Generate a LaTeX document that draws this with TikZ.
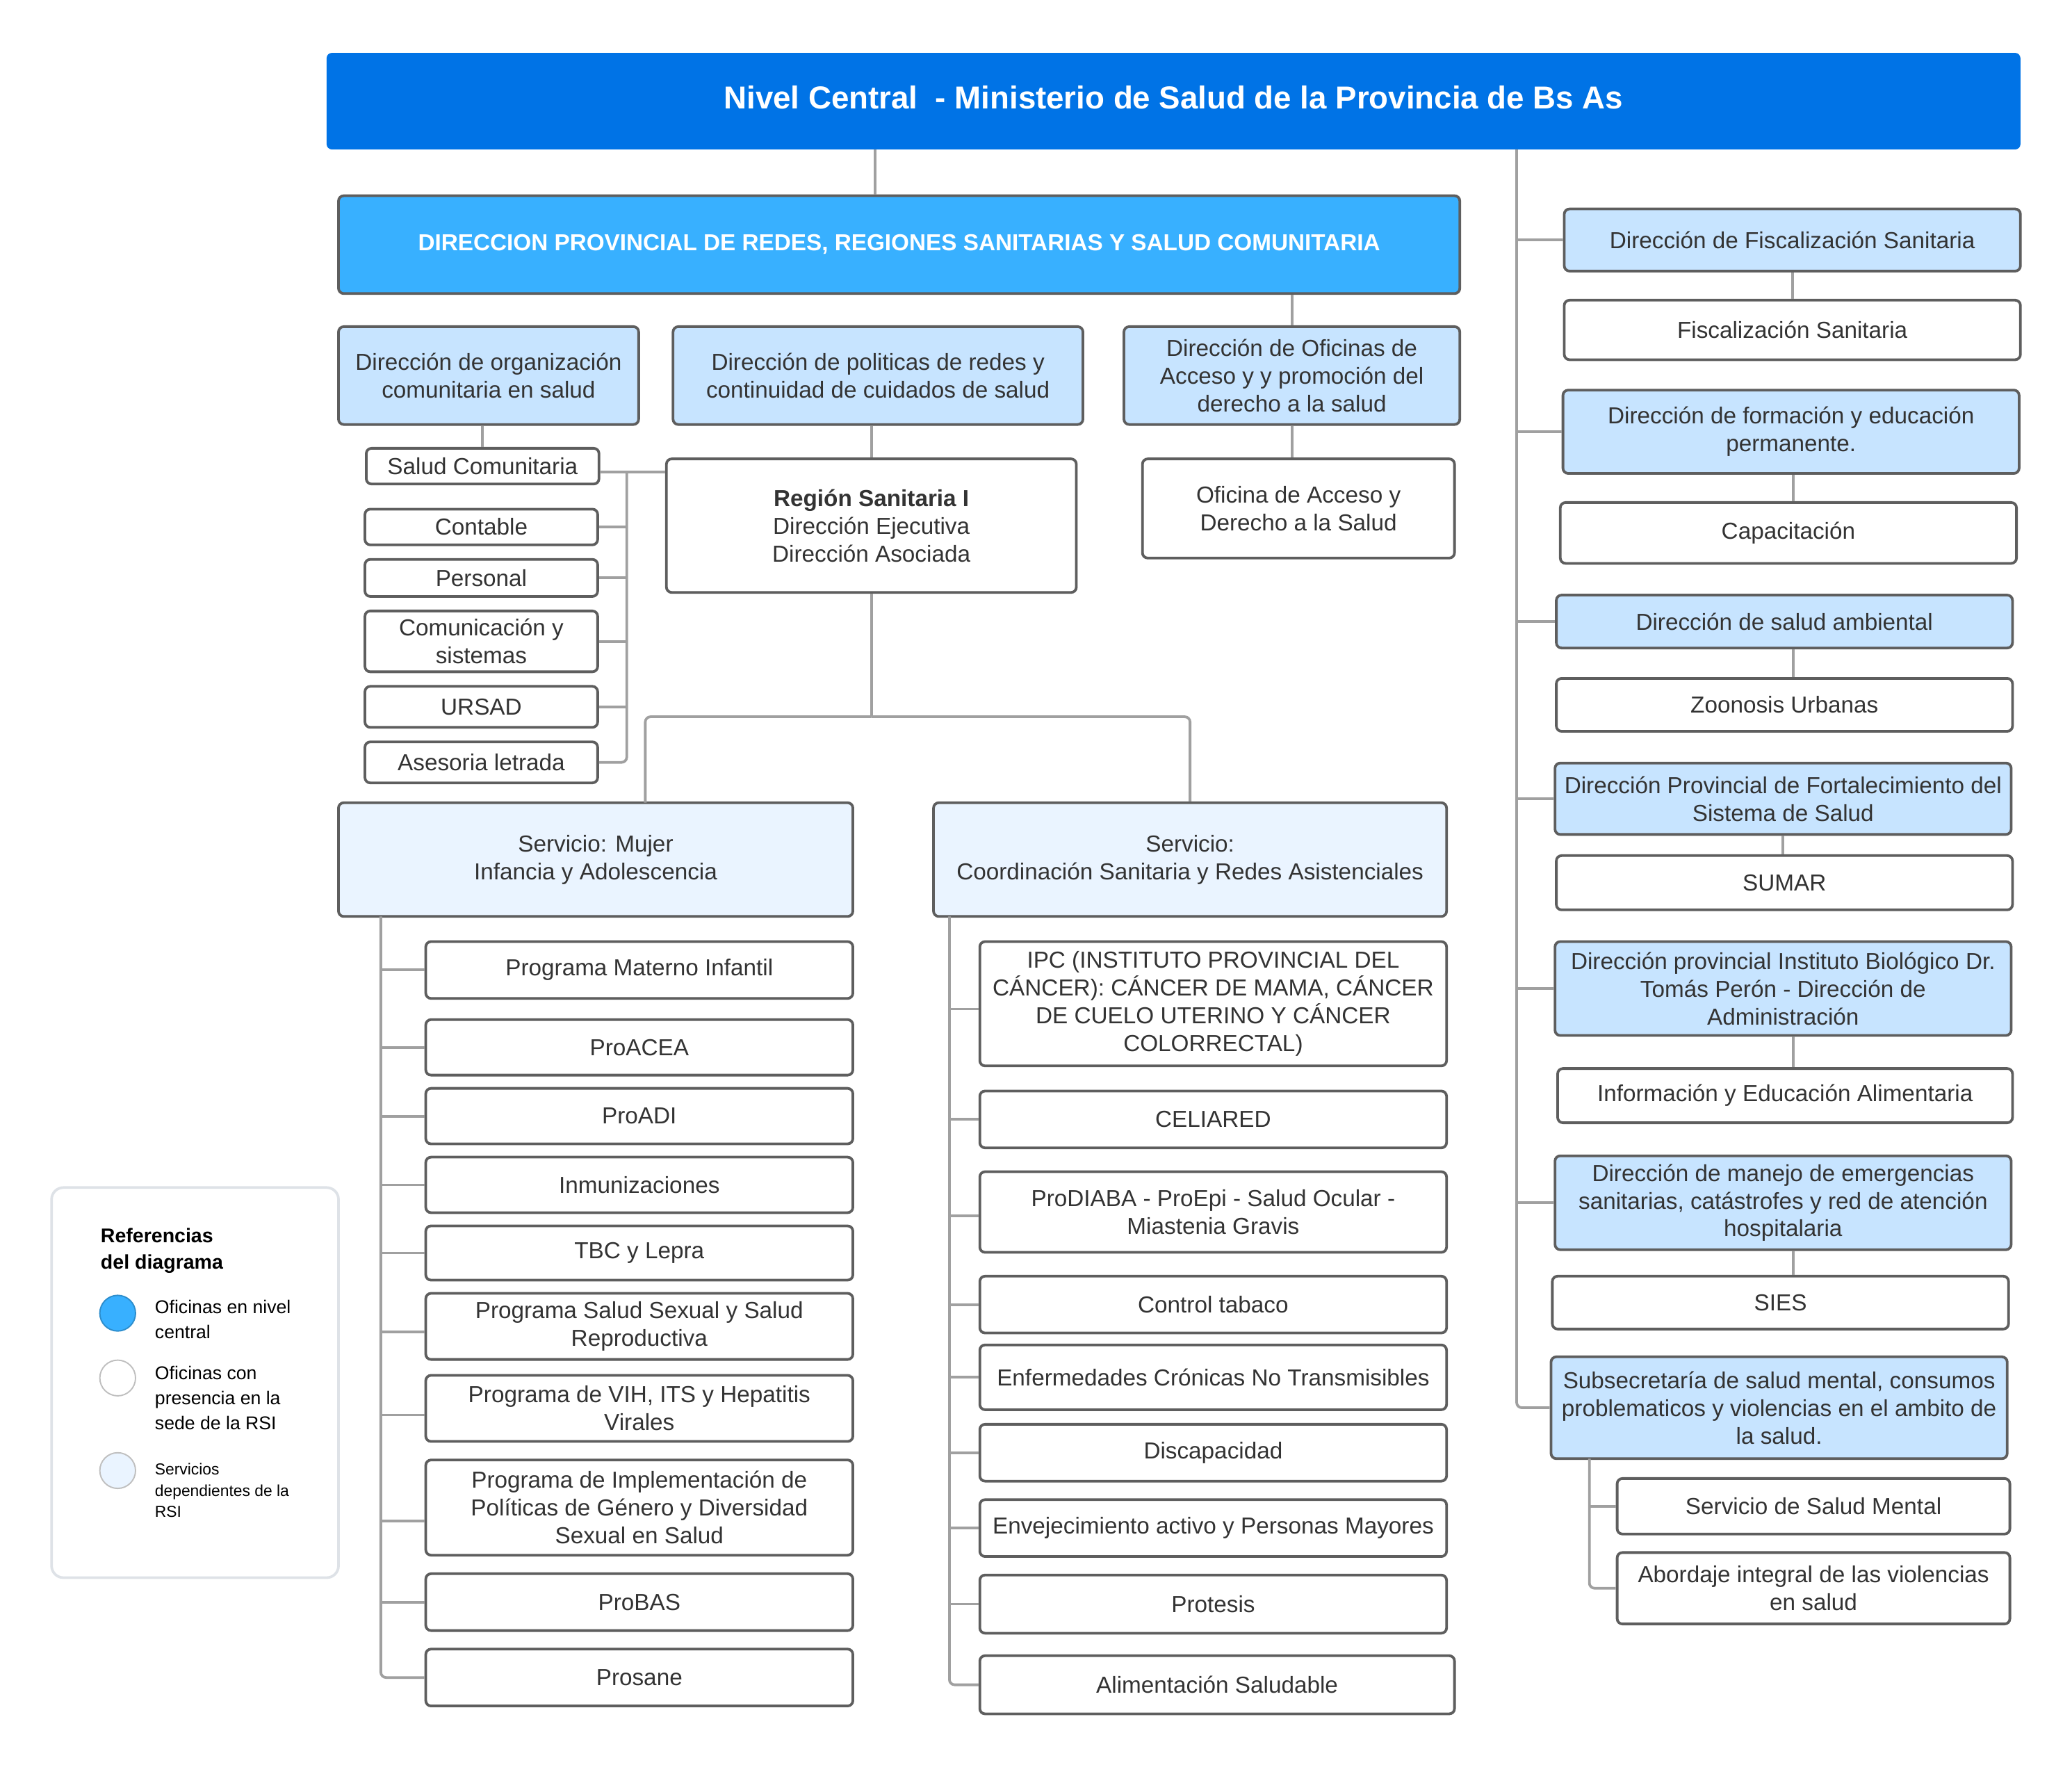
\documentclass[tikz,border=0pt]{standalone}
\usepackage{fontspec}
\setmainfont{Liberation Sans}
\usepackage{tikz}
\definecolor{azul}{RGB}{0,115,230}
\definecolor{celeste}{RGB}{56,176,255}
\definecolor{celestecl}{RGB}{199,228,255}
\definecolor{servcl}{RGB}{234,244,255}
\definecolor{borde}{RGB}{94,94,94}
\definecolor{linea}{RGB}{160,160,160}
\definecolor{texto}{RGB}{51,51,51}
\definecolor{marco}{RGB}{222,226,231}

\begin{document}
\begin{tikzpicture}[x=1pt,y=-1pt,
  caja/.style={draw=borde, line width=2pt, rounded corners=4pt, fill=white, align=center, inner sep=0pt, text=texto, font=\fontsize{17.5}{21}\selectfont},
  dir/.style={caja, fill=celestecl},
  serv/.style={caja, fill=servcl},
  conn/.style={draw=linea, line width=2pt},
  leyenda/.style={anchor=west, align=left, inner sep=0pt, font=\fontsize{14}{19}\selectfont},
  punto/.style={circle, minimum size=27pt, inner sep=0pt, line width=1pt}]
\useasboundingbox (0,0) rectangle (1567,1334.6);

% nivel central
\node[fill=azul, rounded corners=4pt, minimum width=1281, minimum height=73, text depth=6pt, text=white, font=\bfseries\fontsize{24}{28}\selectfont] (nivel) at (887.5,76.5) {Nivel Central\ \ - Ministerio de Salud de la Provincia de Bs As};
\node[caja, fill=celeste, minimum width=848, minimum height=74, text=white, font=\bfseries\fontsize{17.5}{21}\selectfont] (dirprov) at (680,185) {DIRECCION PROVINCIAL DE REDES, REGIONES SANITARIAS Y SALUD COMUNITARIA};

\node[dir, minimum width=227, minimum height=74] (dirorg) at (369.5,284) {Dirección de organización\\comunitaria en salud};
\node[dir, minimum width=310, minimum height=74] (dirpol) at (664,284) {Dirección de politicas de redes y\\continuidad de cuidados de salud};
\node[dir, minimum width=254, minimum height=74] (dirofi) at (977,284) {Dirección de Oficinas de\\Acceso y y promoción del\\derecho a la salud};

\node[caja, minimum width=176, minimum height=27] (saludc) at (365,352.5) {Salud Comunitaria};
\node[caja, minimum width=176, minimum height=27] (contable) at (364,398.5) {Contable};
\node[caja, minimum width=176, minimum height=28] (personal) at (364,437) {Personal};
\node[caja, minimum width=176, minimum height=46] (comunic) at (364,485) {Comunicación y\\sistemas};
\node[caja, minimum width=176, minimum height=31] (ursad) at (364,534.5) {URSAD};
\node[caja, minimum width=176, minimum height=31] (asesoria) at (364,576.5) {Asesoria letrada};

\node[caja, minimum width=310, minimum height=101] (region) at (659,397.5) {{\bfseries Región Sanitaria I}\\Dirección Ejecutiva\\Dirección Asociada};
\node[caja, minimum width=236, minimum height=75] (oficina) at (982,384.5) {Oficina de Acceso y\\Derecho a la Salud};

\node[serv, minimum width=389, minimum height=86] (mujer) at (450.5,650) {Servicio: Mujer\\Infancia y Adolescencia};
\node[serv, minimum width=388, minimum height=86] (coord) at (900,650) {Servicio:\\Coordinación Sanitaria y Redes Asistenciales};

% programas del servicio mujer
\node[caja, minimum width=323, minimum height=43] (materno) at (483.5,733.5) {Programa Materno Infantil};
\node[caja, minimum width=323, minimum height=42] (proacea) at (483.5,792) {ProACEA};
\node[caja, minimum width=323, minimum height=42] (proadi) at (483.5,844) {ProADI};
\node[caja, minimum width=323, minimum height=42] (inmun) at (483.5,896) {Inmunizaciones};
\node[caja, minimum width=323, minimum height=41] (tbc) at (483.5,947.5) {TBC y Lepra};
\node[caja, minimum width=323, minimum height=50] (ssexual) at (483.5,1003) {Programa Salud Sexual y Salud\\Reproductiva};
\node[caja, minimum width=323, minimum height=50] (vih) at (483.5,1065) {Programa de VIH, ITS y Hepatitis\\Virales};
\node[caja, minimum width=323, minimum height=72] (genero) at (483.5,1140) {Programa de Implementación de\\Políticas de Género y Diversidad\\Sexual en Salud};
\node[caja, minimum width=323, minimum height=43] (probas) at (483.5,1211.5) {ProBAS};
\node[caja, minimum width=323, minimum height=43] (prosane) at (483.5,1268.5) {Prosane};

% programas del servicio coordinacion
\node[caja, minimum width=353, minimum height=94] (ipc) at (917.5,759) {IPC (INSTITUTO PROVINCIAL DEL\\CÁNCER): CÁNCER DE MAMA, CÁNCER\\DE CUELO UTERINO Y CÁNCER\\COLORRECTAL)};
\node[caja, minimum width=353, minimum height=43] (celiared) at (917.5,846.5) {CELIARED};
\node[caja, minimum width=353, minimum height=61] (prodiaba) at (917.5,916.5) {ProDIABA - ProEpi - Salud Ocular -\\Miastenia Gravis};
\node[caja, minimum width=353, minimum height=43] (tabaco) at (917.5,986.5) {Control tabaco};
\node[caja, minimum width=353, minimum height=49] (ecnt) at (917.5,1041.5) {Enfermedades Crónicas No Transmisibles};
\node[caja, minimum width=353, minimum height=43] (discap) at (917.5,1098.5) {Discapacidad};
\node[caja, minimum width=353, minimum height=43] (envejec) at (917.5,1155.5) {Envejecimiento activo y Personas Mayores};
\node[caja, minimum width=353, minimum height=44] (protesis) at (917.5,1213) {Protesis};
\node[caja, minimum width=359, minimum height=44] (alimsal) at (920.5,1274) {Alimentación Saludable};

% columna derecha
\node[dir, minimum width=345, minimum height=47] (dfisc) at (1355.5,181.5) {Dirección de Fiscalización Sanitaria};
\node[caja, minimum width=345, minimum height=45] (fisc) at (1355.5,249.5) {Fiscalización Sanitaria};
\node[dir, minimum width=345, minimum height=63] (dform) at (1354.5,326.5) {Dirección de formación y educación\\permanente.};
\node[caja, minimum width=345, minimum height=46] (capac) at (1352.5,403) {Capacitación};
\node[dir, minimum width=345, minimum height=40] (dambi) at (1349.5,470) {Dirección de salud ambiental};
\node[caja, minimum width=345, minimum height=40] (zoon) at (1349.5,533) {Zoonosis Urbanas};
\node[dir, minimum width=345, minimum height=54] (dforta) at (1348.5,604) {Dirección Provincial de Fortalecimiento del\\Sistema de Salud};
\node[caja, minimum width=345, minimum height=41] (sumar) at (1349.5,667.5) {SUMAR};
\node[dir, minimum width=345, minimum height=71] (dbio) at (1348.5,747.5) {Dirección provincial Instituto Biológico Dr.\\Tomás Perón - Dirección de\\Administración};
\node[caja, minimum width=344, minimum height=41] (infoal) at (1350,828.5) {Información y Educación Alimentaria};
\node[dir, minimum width=345, minimum height=71] (demerg) at (1348.5,909.5) {Dirección de manejo de emergencias\\sanitarias, catástrofes y red de atención\\hospitalaria};
\node[caja, minimum width=345, minimum height=40] (sies) at (1346.5,985) {SIES};
\node[dir, minimum width=345, minimum height=77] (subsec) at (1345.5,1064.5) {Subsecretaría de salud mental, consumos\\problematicos y violencias en el ambito de\\la salud.};
\node[caja, minimum width=297, minimum height=42] (smental) at (1371.5,1139) {Servicio de Salud Mental};
\node[caja, minimum width=297, minimum height=54] (abordaje) at (1371.5,1201) {Abordaje integral de las violencias\\en salud};

% referencias
\node[draw=marco, line width=2pt, rounded corners=9pt, minimum width=217, minimum height=295] (refs) at (147.5,1045.5) {};
\node[leyenda, font=\bfseries\fontsize{15}{20}\selectfont] (reftit) at (76,946) {Referencias\\del diagrama};
\node[punto, fill=celeste, draw=celeste!80!black] (pcentral) at (89,993) {};
\node[punto, fill=white, draw=black!25] (psede) at (89,1042) {};
\node[punto, fill=servcl, draw=black!25] (pserv) at (89,1112) {};
\node[leyenda] (tcentral) at (117,997.5) {Oficinas en nivel\\central};
\node[leyenda] (tsede) at (117,1057) {Oficinas con\\presencia en la\\sede de la RSI};
\node[leyenda, font=\fontsize{12}{16}\selectfont] (tserv) at (117,1127) {Servicios\\dependientes de la\\RSI};

% conectores
\coordinate (ctop) at (662,113);
\coordinate (rspine) at (1147,113);
\coordinate (lspine) at (474,357);
\coordinate (fork) at (659,542);
\coordinate (mjtop) at (488,607);
\coordinate (mspine) at (288,693);
\coordinate (cspine) at (718,693);
\coordinate (sspine) at (1202,1103);

\draw[conn] (ctop) -- (ctop |- dirprov.north);
\draw[conn] (dirorg.north -| 365,0) -- (dirorg.north -| 365,0 |- dirprov.south);
\draw[conn] (dirpol.north -| 660,0) -- (dirpol.north -| 660,0 |- dirprov.south);
\draw[conn] (dirofi.north) -- (dirofi.north |- dirprov.south);
\draw[conn] (saludc.north) -- (saludc.north |- dirorg.south);
\draw[conn] (region.north) -- (region.north |- dirpol.south);
\draw[conn] (oficina.north -| dirofi.south) -- (dirofi.south);

\draw[conn] (saludc.east |- lspine) -- (lspine -| region.west);
\draw[conn, rounded corners=4pt] (lspine) |- (asesoria.east);
\draw[conn] (contable.east) -- (contable.east -| lspine);
\draw[conn] (personal.east) -- (personal.east -| lspine);
\draw[conn] (comunic.east) -- (comunic.east -| lspine);
\draw[conn] (ursad.east) -- (ursad.east -| lspine);

\draw[conn] (region.south) -- (fork);
\draw[conn, rounded corners=4pt] (fork) -| (mjtop);
\draw[conn, rounded corners=4pt] (fork) -| (coord.north);

\draw[conn, rounded corners=4pt] (mspine) |- (prosane.west);
\draw[conn] (mspine |- materno.west) -- (materno.west);
\draw[conn] (mspine |- proacea.west) -- (proacea.west);
\draw[conn] (mspine |- proadi.west) -- (proadi.west);
\draw[conn] (mspine |- inmun.west) -- (inmun.west);
\draw[conn] (mspine |- tbc.west) -- (tbc.west);
\draw[conn] ([yshift=-4pt]ssexual.west) -- ++(-34,0);
\draw[conn] ([yshift=-5pt]vih.west) -- ++(-34,0);
\draw[conn] ([yshift=-10pt]genero.west) -- ++(-34,0);
\draw[conn] (mspine |- probas.west) -- (probas.west);

\draw[conn, rounded corners=4pt] (cspine) |- (alimsal.west);
\draw[conn] ([yshift=-4pt]ipc.west) -- ++(-23,0);
\draw[conn] (cspine |- celiared.west) -- (celiared.west);
\draw[conn] ([yshift=-3pt]prodiaba.west) -- ++(-23,0);
\draw[conn] (cspine |- tabaco.west) -- (tabaco.west);
\draw[conn] (cspine |- ecnt.west) -- (ecnt.west);
\draw[conn] (cspine |- discap.west) -- (discap.west);
\draw[conn] (cspine |- envejec.west) -- (envejec.west);
\draw[conn] (cspine |- protesis.west) -- (protesis.west);

\draw[conn, rounded corners=4pt] (rspine) |- (subsec.west);
\draw[conn] (rspine |- dfisc.west) -- (dfisc.west);
\draw[conn] (rspine |- dform.west) -- (dform.west);
\draw[conn] (rspine |- dambi.west) -- (dambi.west);
\draw[conn] (rspine |- dforta.west) -- (dforta.west);
\draw[conn] (rspine |- dbio.west) -- (dbio.west);
\draw[conn] (rspine |- demerg.west) -- (demerg.west);
\draw[conn] (dfisc.south) -- (dfisc.south |- fisc.north);
\draw[conn] (dform.south -| 1356,0) -- (capac.north -| 1356,0);
\draw[conn] (dambi.south -| 1356,0) -- (zoon.north -| 1356,0);
\draw[conn] (dforta.south) -- (dforta.south |- sumar.north);
\draw[conn] (dbio.south -| 1356,0) -- (infoal.north -| 1356,0);
\draw[conn] (demerg.south -| 1356,0) -- (sies.north -| 1356,0);

\draw[conn, rounded corners=4pt] (sspine) |- (abordaje.west);
\draw[conn] (sspine |- smental.west) -- (smental.west);
\end{tikzpicture}
\end{document}
